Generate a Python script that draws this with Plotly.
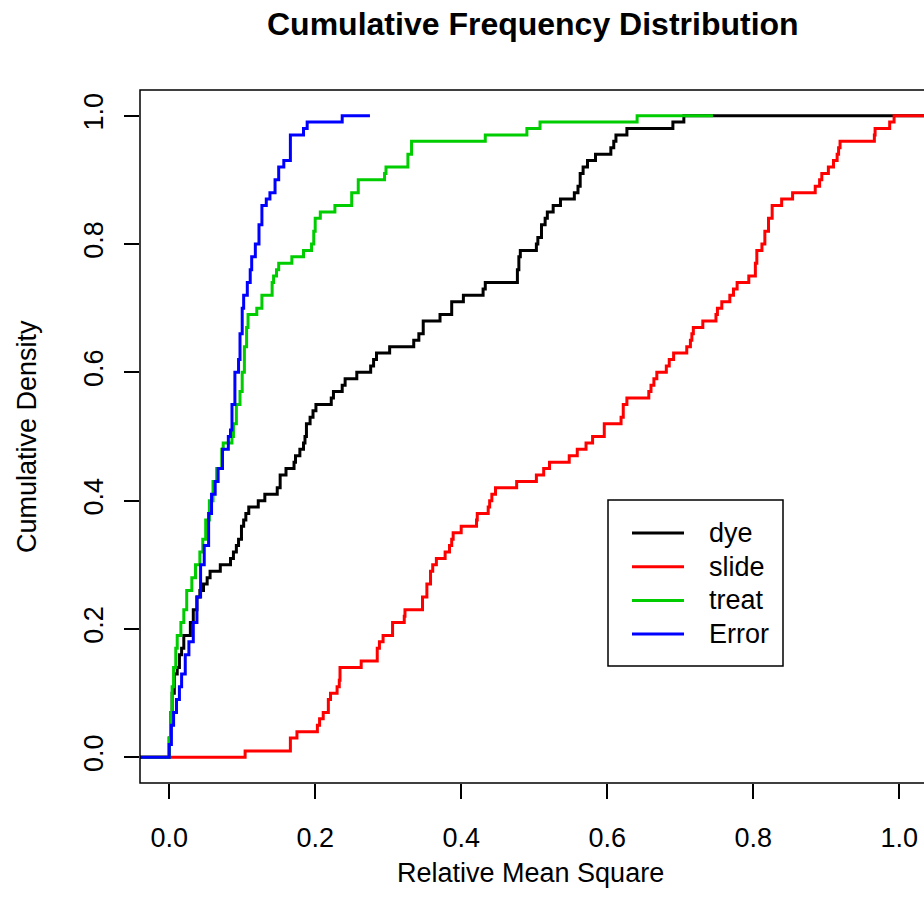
import plotly.graph_objects as go

# ECDF knots: x where the curve steps, y the level after the step
dye_x = [-0.04, 0.000, 0.002, 0.004, 0.007, 0.011, 0.014, 0.017, 0.020, 0.029, 0.033, 0.038, 0.042,
         0.047, 0.052, 0.056, 0.070, 0.084, 0.088, 0.092, 0.095, 0.099, 0.102, 0.105, 0.109, 0.122,
         0.131, 0.148, 0.152, 0.160, 0.171, 0.173, 0.179, 0.184, 0.186, 0.188, 0.193, 0.197, 0.201,
         0.222, 0.225, 0.237, 0.241, 0.257, 0.276, 0.280, 0.284, 0.302, 0.335, 0.342, 0.348, 0.371,
         0.387, 0.403, 0.430, 0.433, 0.477, 0.479, 0.481, 0.503, 0.505, 0.510, 0.515, 0.518, 0.526,
         0.536, 0.555, 0.560, 0.563, 0.567, 0.573, 0.584, 0.605, 0.609, 0.612, 0.627, 0.690, 0.705, 1.04]
dye_y = [0.00, 0.03, 0.07, 0.10, 0.13, 0.14, 0.16, 0.17, 0.19, 0.21, 0.23, 0.25, 0.26,
         0.27, 0.28, 0.29, 0.30, 0.31, 0.32, 0.33, 0.34, 0.36, 0.37, 0.38, 0.39, 0.40,
         0.41, 0.42, 0.44, 0.45, 0.46, 0.47, 0.48, 0.49, 0.50, 0.52, 0.53, 0.54, 0.55,
         0.56, 0.57, 0.58, 0.59, 0.60, 0.61, 0.62, 0.63, 0.64, 0.65, 0.66, 0.68, 0.69,
         0.71, 0.72, 0.73, 0.74, 0.76, 0.78, 0.79, 0.80, 0.81, 0.83, 0.84, 0.85, 0.86,
         0.87, 0.88, 0.89, 0.91, 0.92, 0.93, 0.94, 0.95, 0.96, 0.97, 0.98, 0.99, 1.00, 1.00]

slide_x = [-0.04, 0.104, 0.166, 0.175, 0.203, 0.206, 0.211, 0.218, 0.221, 0.230, 0.233, 0.234, 0.263,
           0.285, 0.288, 0.293, 0.306, 0.322, 0.323, 0.347, 0.353, 0.358, 0.361, 0.366, 0.378, 0.384,
           0.387, 0.389, 0.400, 0.421, 0.422, 0.437, 0.439, 0.442, 0.447, 0.476, 0.503, 0.513, 0.521,
           0.548, 0.559, 0.571, 0.580, 0.596, 0.619, 0.622, 0.627, 0.657, 0.660, 0.664, 0.668, 0.681,
           0.685, 0.691, 0.709, 0.714, 0.716, 0.718, 0.731, 0.749, 0.751, 0.757, 0.768, 0.773, 0.778,
           0.794, 0.803, 0.805, 0.812, 0.816, 0.821, 0.826, 0.839, 0.854, 0.885, 0.891, 0.894, 0.903,
           0.910, 0.915, 0.917, 0.919, 0.966, 0.967, 0.987, 0.993, 1.04]
slide_y = [0.00, 0.01, 0.03, 0.04, 0.05, 0.06, 0.07, 0.09, 0.10, 0.11, 0.12, 0.14, 0.15,
           0.17, 0.18, 0.19, 0.21, 0.22, 0.23, 0.25, 0.27, 0.29, 0.30, 0.31, 0.32, 0.33,
           0.34, 0.35, 0.36, 0.37, 0.38, 0.39, 0.40, 0.41, 0.42, 0.43, 0.44, 0.45, 0.46,
           0.47, 0.48, 0.49, 0.50, 0.52, 0.53, 0.55, 0.56, 0.57, 0.58, 0.59, 0.60, 0.61,
           0.62, 0.63, 0.64, 0.65, 0.66, 0.67, 0.68, 0.69, 0.70, 0.71, 0.72, 0.73, 0.74,
           0.75, 0.77, 0.79, 0.80, 0.82, 0.84, 0.86, 0.87, 0.88, 0.89, 0.90, 0.91, 0.92,
           0.93, 0.94, 0.95, 0.96, 0.97, 0.98, 0.99, 1.00, 1.00]

treat_x = [-0.04, 0.000, 0.002, 0.004, 0.006, 0.009, 0.011, 0.016, 0.020, 0.024, 0.031, 0.036, 0.042,
           0.046, 0.050, 0.055, 0.060, 0.065, 0.072, 0.074, 0.086, 0.088, 0.092, 0.097, 0.100, 0.103,
           0.106, 0.108, 0.120, 0.127, 0.141, 0.143, 0.147, 0.150, 0.168, 0.184, 0.195, 0.198, 0.200,
           0.207, 0.227, 0.250, 0.259, 0.295, 0.297, 0.327, 0.332, 0.433, 0.490, 0.508, 0.641, 0.745]
treat_y = [0.00, 0.03, 0.07, 0.11, 0.14, 0.17, 0.19, 0.21, 0.23, 0.26, 0.28, 0.30, 0.32,
           0.34, 0.37, 0.40, 0.43, 0.45, 0.48, 0.49, 0.50, 0.52, 0.55, 0.57, 0.60, 0.64,
           0.67, 0.69, 0.70, 0.72, 0.74, 0.75, 0.76, 0.77, 0.78, 0.79, 0.80, 0.82, 0.84,
           0.85, 0.86, 0.88, 0.90, 0.91, 0.92, 0.94, 0.96, 0.97, 0.98, 0.99, 1.00, 1.00]

error_x = [-0.04, 0.000, 0.003, 0.006, 0.010, 0.014, 0.017, 0.022, 0.027, 0.033, 0.038, 0.043, 0.048,
           0.054, 0.058, 0.063, 0.067, 0.073, 0.081, 0.084, 0.086, 0.090, 0.095, 0.097, 0.100, 0.102,
           0.107, 0.111, 0.113, 0.118, 0.123, 0.127, 0.133, 0.138, 0.145, 0.150, 0.157, 0.166, 0.184,
           0.189, 0.237, 0.275]
error_y = [0.00, 0.02, 0.05, 0.07, 0.09, 0.11, 0.13, 0.16, 0.18, 0.21, 0.25, 0.30, 0.33,
           0.38, 0.41, 0.43, 0.45, 0.48, 0.50, 0.51, 0.55, 0.60, 0.62, 0.66, 0.70, 0.72,
           0.74, 0.76, 0.78, 0.80, 0.83, 0.86, 0.87, 0.88, 0.90, 0.92, 0.93, 0.97, 0.98,
           0.99, 1.00, 1.00]

series_names = ["dye", "slide", "treat", "Error"]
series_colors = ["#000000", "#ff0000", "#00cd00", "#0000ff"]
tick_vals = [0.0, 0.2, 0.4, 0.6, 0.8, 1.0]
tick_text = ["0.0", "0.2", "0.4", "0.6", "0.8", "1.0"]

FONT = "Liberation Sans, Arial, Helvetica, sans-serif"
TXT = 27

fig = go.Figure()
for name, color, xs, ys in zip(series_names, series_colors,
                               [dye_x, slide_x, treat_x, error_x],
                               [dye_y, slide_y, treat_y, error_y]):
    fig.add_trace(go.Scatter(x=xs, y=ys, mode="lines", name=name, line_shape="hv",
                             line=dict(color=color, width=3), showlegend=False))

# plot box (right side runs off the canvas as in the original)
fig.add_shape(type="rect", xref="paper", yref="paper", x0=0, x1=1.1, y0=0, y1=1,
              line=dict(color="black", width=1.5), layer="above")

# legend drawn by hand, R style
W, H, L, T = 784, 693, 140, 90
def px(x):
    return (x - L) / W
def py(y):
    return (T + H - y) / H

fig.add_shape(type="rect", xref="paper", yref="paper", x0=px(608), x1=px(783), y0=py(666), y1=py(500),
              line=dict(color="black", width=1.5), fillcolor="white", layer="above")
for i, (name, color) in enumerate(zip(series_names, series_colors)):
    yy = py(533 + i * 33.7)
    fig.add_shape(type="line", xref="paper", yref="paper", x0=px(632), x1=px(684), y0=yy, y1=yy,
                  line=dict(color=color, width=3), layer="above")
    fig.add_annotation(x=px(707), y=yy, xref="paper", yref="paper", text=name, showarrow=False,
                       xanchor="left", yanchor="middle", font=dict(size=TXT, color="black", family=FONT))

fig.add_annotation(x=px(533), y=py(24), xref="paper", yref="paper", text="<b>Cumulative Frequency Distribution</b>",
                   showarrow=False, xanchor="center", yanchor="middle", font=dict(size=32, color="black", family=FONT))
fig.add_annotation(x=px(530), y=py(873), xref="paper", yref="paper", text="Relative Mean Square",
                   showarrow=False, xanchor="center", yanchor="middle", font=dict(size=TXT, color="black", family=FONT))
fig.add_annotation(x=px(27), y=py(437), xref="paper", yref="paper", text="Cumulative Density", textangle=-90,
                   showarrow=False, xanchor="center", yanchor="middle", font=dict(size=TXT, color="black", family=FONT))

fig.update_layout(
    width=924, height=915,
    margin=dict(l=L, r=0, t=T, b=915 - T - H),
    paper_bgcolor="white", plot_bgcolor="white",
    font=dict(family=FONT, size=TXT, color="black"),
    xaxis=dict(range=[-0.04, 1.034], showgrid=False, zeroline=False, showline=False,
               tickvals=tick_vals, ticktext=tick_text, ticks="outside", ticklen=15, tickwidth=1.5,
               tickcolor="black", ticklabelstandoff=16),
    yaxis=dict(range=[-0.04, 1.04], showgrid=False, zeroline=False, showline=False,
               tickvals=tick_vals, ticktext=tick_text, ticks="outside", ticklen=15, tickwidth=1.5,
               tickcolor="black", tickangle=-90, ticklabelstandoff=10),
)

fig.write_html("out.html", config={"displayModeBar": False},
               post_script="document.body.style.margin='0';document.body.style.overflow='hidden';")
